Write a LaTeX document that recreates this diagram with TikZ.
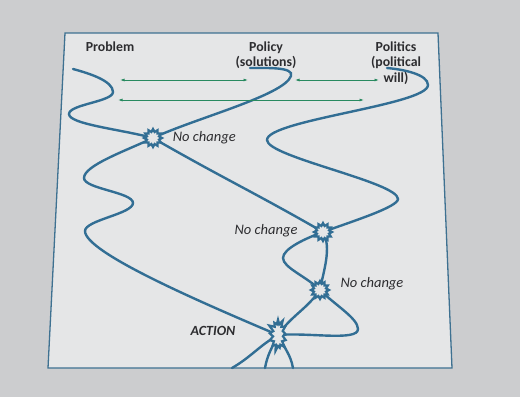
\documentclass[tikz,border=0pt]{standalone}
\usepackage{fontspec}
\setmainfont{Carlito}
\usetikzlibrary{shapes.geometric,shapes.symbols,arrows.meta,positioning,backgrounds}
\definecolor{strand}{RGB}{50,110,148}
\definecolor{link}{RGB}{40,138,96}
\definecolor{paper}{RGB}{229,230,231}
\definecolor{desk}{RGB}{204,205,207}
\definecolor{ink}{RGB}{45,45,48}

\begin{document}
\begin{tikzpicture}[x=1pt,y=1pt,
    strandline/.style={draw=strand, line width=2.4pt, line cap=round},
    spark/.style={star, star points=12, star point ratio=1.45, draw=strand, fill=paper, line width=2.2pt, minimum size=18pt, inner sep=0pt},
    bigspark/.style={starburst, starburst points=13, starburst point height=6pt, draw=strand, fill=paper, line width=2.2pt, minimum width=22pt, minimum height=34pt, inner sep=0pt},
    head/.style={font=\bfseries\fontsize{13.8}{15.5}\selectfont, text=ink, align=center},
    note/.style={font=\itshape\fontsize{14.5}{16}\selectfont, text=ink},
    span/.style={draw=link, line width=0.8pt, {Latex[length=4.5pt,width=3pt]}-{Latex[length=4.5pt,width=3pt]}},
]

\useasboundingbox (0,0) rectangle (520,-397);

% crossing points
\coordinate (k1) at (153,-138);
\coordinate (k2) at (323,-232);
\coordinate (k3) at (320,-290);
\coordinate (kact) at (278,-335);

% strand ends and bends
\coordinate (a0) at (73,-69);
\coordinate (a1) at (113,-92);
\coordinate (a2) at (69,-114);
\coordinate (a9) at (265,-368);
\coordinate (p0) at (250,-68);
\coordinate (p1) at (291,-76);
\coordinate (w1) at (84,-178);
\coordinate (w2) at (133,-203);
\coordinate (w3) at (85,-231);
\coordinate (p9) at (293,-368);
\coordinate (c0) at (387,-68);
\coordinate (c1) at (428,-85);
\coordinate (c2) at (267,-140);
\coordinate (c3) at (398,-199);
\coordinate (lp) at (283,-258);
\coordinate (bd) at (358,-329);
\coordinate (c9) at (232,-368);

\begin{scope}[on background layer]
\fill[desk] (0,0) rectangle (520,-397);
\draw[strand!85!gray, line width=1.3pt, fill=paper] (65,-33) -- (438,-33) -- (452,-368) -- (48,-368) -- cycle;

% problem
\draw[strandline] (a0) to[out=-15,in=90,in looseness=0.6] (a1)
    to[out=-90,in=90,looseness=0.5] (a2)
    to[out=-90,in=165,out looseness=0.3] (k1)
    to[out=-30,in=150] (k2)
    to[out=-60,in=80,looseness=0.8] (k3)
    to[out=-125,in=55] (kact)
    to[out=-115,in=80] (a9);
% policy
\draw[strandline] (p0) to[out=0,in=70,in looseness=0.6] (p1)
    to[out=-110,in=25,out looseness=0.35,in looseness=0.8] (k1)
    to[out=205,in=90,in looseness=0.4] (w1)
    to[out=-90,in=90,looseness=0.5] (w2)
    to[out=-90,in=90,looseness=0.5] (w3)
    to[out=-90,in=157,out looseness=0.25] (kact)
    to[out=-65,in=100] (p9);
% politics
\draw[strandline] (c0) to[out=-5,in=90,in looseness=0.6] (c1)
    to[out=-90,in=90,looseness=0.3] (c2)
    to[out=-90,in=90,looseness=0.3] (c3)
    to[out=-90,in=20,out looseness=0.25] (k2)
    to[out=200,in=90,in looseness=0.5] (lp)
    to[out=-90,in=135,out looseness=0.5] (k3)
    to[out=-45,in=90,in looseness=0.5] (bd)
    to[out=-90,in=5,out looseness=0.4] (kact)
    to[out=210,in=30] (c9);
\end{scope}

\node[spark] (s1) at (k1) {};
\node[spark] (s2) at (k2) {};
\node[spark] (s3) at (k3) {};
\node[bigspark] (act) at (kact) {};

\node[head] (problem) at (110,-47) {Problem};
\node[head] (policy) at (266,-55) {Policy\\(solutions)};
\node[head] (politics) at (396,-63) {Politics\\(political\\will)};

\node[note, right=5pt of s1] (nc1) {No change};
\node[note, anchor=east] (nc2) at (301,-231) {No change};
\node[note, anchor=west] (nc3) at (337,-284) {No change};
\node[note, font=\bfseries\itshape\fontsize{14}{16}\selectfont] (action) at (213,-331) {ACTION};

\coordinate (g1l) at (120,-80);
\coordinate (g1r) at (248,-80);
\coordinate (g2l) at (295,-80);
\coordinate (g2r) at (379,-80);
\coordinate (g3l) at (118,-100);
\coordinate (g3r) at (364,-100);
\draw[span] (g1l) -- (g1r);
\draw[span] (g2l) -- (g2r);
\draw[span] (g3l) -- (g3r);

\end{tikzpicture}
\end{document}
